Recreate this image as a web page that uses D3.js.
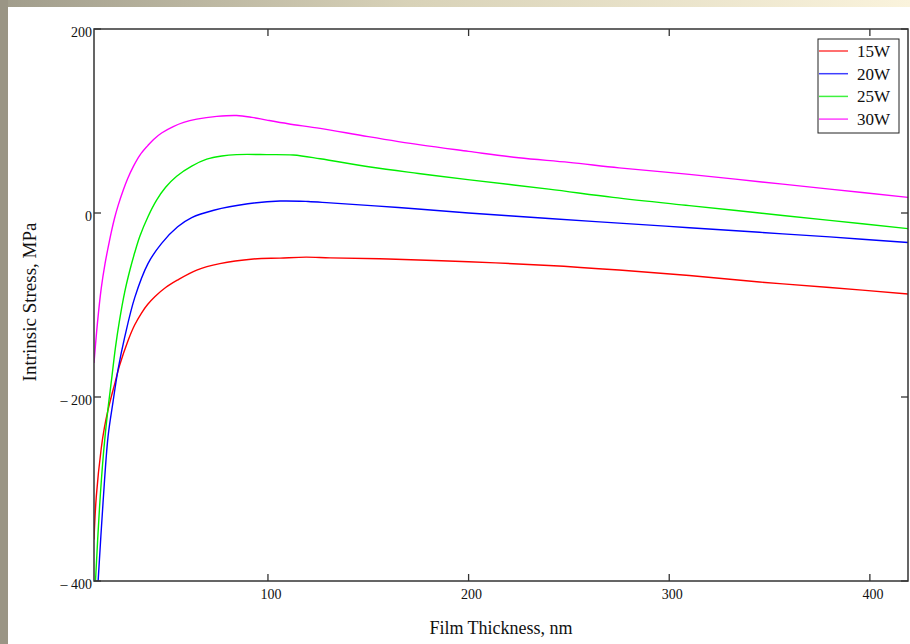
<!DOCTYPE html>
<html><head><meta charset="utf-8">
<script src="https://cdn.jsdelivr.net/npm/d3@7"></script>
<style>
html,body{margin:0;padding:0;background:#fff;}
svg text{font-family:"Liberation Serif","Times New Roman",serif;fill:#111;}
</style></head>
<body><svg id="c" width="910" height="644"></svg>
<script>
const seriesNames = ["15W","20W","25W","30W"];
const seriesColors = ["#ff0000","#0000ff","#00ee00","#ff00ff"];
const xTicks = [100,200,300,400];
const yTicks = [200,0,-200,-400];
const yTickLabels = ["200","0","\u2013 200","\u2013 400"];
const xTitle = "Film Thickness, nm";
const yTitle = "Intrinsic Stress, MPa";

const s15W = [[13.3,-355],[14.45,-308],[16.9,-256],[18.5,-233],[20.3,-214],[22,-199],[23.6,-186],[26,-166],[30.2,-139],[33.5,-122],[36.9,-109],[40,-99.5],[43.6,-91],[49,-81],[54.8,-73],[64.5,-62],[76,-55],[92.7,-50],[106,-49],[119,-48],[131,-48.8],[160,-50],[200,-53],[240,-57],[275,-62],[310,-68],[345,-75],[380,-81],[419,-88]];
const s20W = [[15.3,-402],[17.8,-315],[20.3,-243],[22.8,-205],[25.3,-170],[28.6,-135],[33.6,-92],[40.2,-55],[47,-33],[55,-15],[62,-5],[73,3],[90,10],[106,13],[120,12.5],[131,11],[165,6],[200,0],[240,-6],[275,-11],[310,-16],[345,-21],[380,-26],[419,-32]];
const s25W = [[14,-402],[16,-322],[18,-262],[20,-218],[22,-182],[24,-146],[26,-117],[28.6,-86],[31.2,-62],[33.6,-43],[36.2,-25],[40.2,-4],[44.5,14],[49,28],[54.5,40],[62,51],[69.5,58.5],[77,62],[84.4,63.5],[99.4,63.5],[112.6,63],[126,59],[151,50],[175,43],[200.6,36],[240,26],[272,17],[310,8],[345,0],[380,-8],[419,-17]];
const s30W = [[13.3,-163],[15,-120],[16.9,-82],[18.8,-55],[20.3,-38],[22,-20],[23.5,-6],[25.3,8],[27.9,25],[30,37],[33,51],[36.2,63],[40,73],[43,80],[47,87],[52.8,94],[58,98.5],[64.5,102],[74.5,105],[84.4,106],[92,104],[99.4,101],[110,97],[126,92],[150,83],[176,74],[200,67],[225,60],[250,55],[275,49],[310,42],[345,34],[380,26],[419,17]];
const seriesData = [s15W,s20W,s25W,s30W];

const svg = d3.select("#c");
const defs = svg.append("defs");
const g1 = defs.append("linearGradient").attr("id","topg").attr("x1","0").attr("x2","1").attr("y1","0").attr("y2","0");
g1.append("stop").attr("offset","0").attr("stop-color","#a09c8b");
g1.append("stop").attr("offset","0.45").attr("stop-color","#d8d2b8");
g1.append("stop").attr("offset","1").attr("stop-color","#faf3dc");
svg.append("rect").attr("x",0).attr("y",0).attr("width",910).attr("height",7).attr("fill","url(#topg)");
svg.append("rect").attr("x",0).attr("y",0).attr("width",8).attr("height",644).attr("fill","#9a9585");

const L=94, R=908, T=29, B=581;
const x = d3.scaleLinear().domain([13.3,419]).range([L,R]);
const y = d3.scaleLinear().domain([-400,200]).range([B,T]);

defs.append("clipPath").attr("id","clip").append("rect").attr("x",L).attr("y",T).attr("width",R-L).attr("height",B-T);

const line = d3.line().x(d=>x(d[0])).y(d=>y(d[1])).curve(d3.curveCatmullRom.alpha(0.5));
const plot = svg.append("g").attr("clip-path","url(#clip)");
seriesData.forEach((d,i)=>{
  plot.append("path").datum(d).attr("d",line).attr("fill","none")
    .attr("stroke",seriesColors[i]).attr("stroke-width",1.4);
});

svg.append("rect").attr("x",L).attr("y",T).attr("width",R-L).attr("height",B-T)
  .attr("fill","none").attr("stroke","#333").attr("stroke-width",1.5);

const tk = svg.append("g").attr("stroke","#333").attr("stroke-width",1.3);
xTicks.forEach(v=>{
  tk.append("line").attr("x1",x(v)).attr("x2",x(v)).attr("y1",B).attr("y2",B-7);
  tk.append("line").attr("x1",x(v)).attr("x2",x(v)).attr("y1",T).attr("y2",T+7);
});
yTicks.forEach(v=>{
  tk.append("line").attr("x1",L).attr("x2",L+7).attr("y1",y(v)).attr("y2",y(v));
  tk.append("line").attr("x1",R).attr("x2",R-7).attr("y1",y(v)).attr("y2",y(v));
});

xTicks.forEach(v=>{
  svg.append("text").attr("x",x(v)+3).attr("y",B+18).attr("text-anchor","middle")
    .attr("font-size",14).text(v);
});
yTicks.forEach((v,i)=>{
  svg.append("text").attr("x",L-2).attr("y",y(v)+8).attr("text-anchor","end")
    .attr("font-size",14).text(yTickLabels[i]);
});

svg.append("text").attr("x",501).attr("y",634).attr("text-anchor","middle").attr("font-size",18).text(xTitle);
svg.append("text").attr("transform","translate(36,302) rotate(-90)").attr("text-anchor","middle").attr("font-size",19).text(yTitle);

const lg = svg.append("g");
lg.append("rect").attr("x",818).attr("y",39).attr("width",81).attr("height",94).attr("fill","#fff").attr("stroke","#222").attr("stroke-width",1);
seriesNames.forEach((n,i)=>{
  const yy = 51 + i*22.7;
  lg.append("line").attr("x1",819).attr("x2",848).attr("y1",yy).attr("y2",yy)
    .attr("stroke",seriesColors[i]).attr("stroke-width",1.5).attr("opacity",0.75);
  lg.append("text").attr("x",857).attr("y",yy+6).attr("font-size",17).text(n);
});
</script></body></html>
